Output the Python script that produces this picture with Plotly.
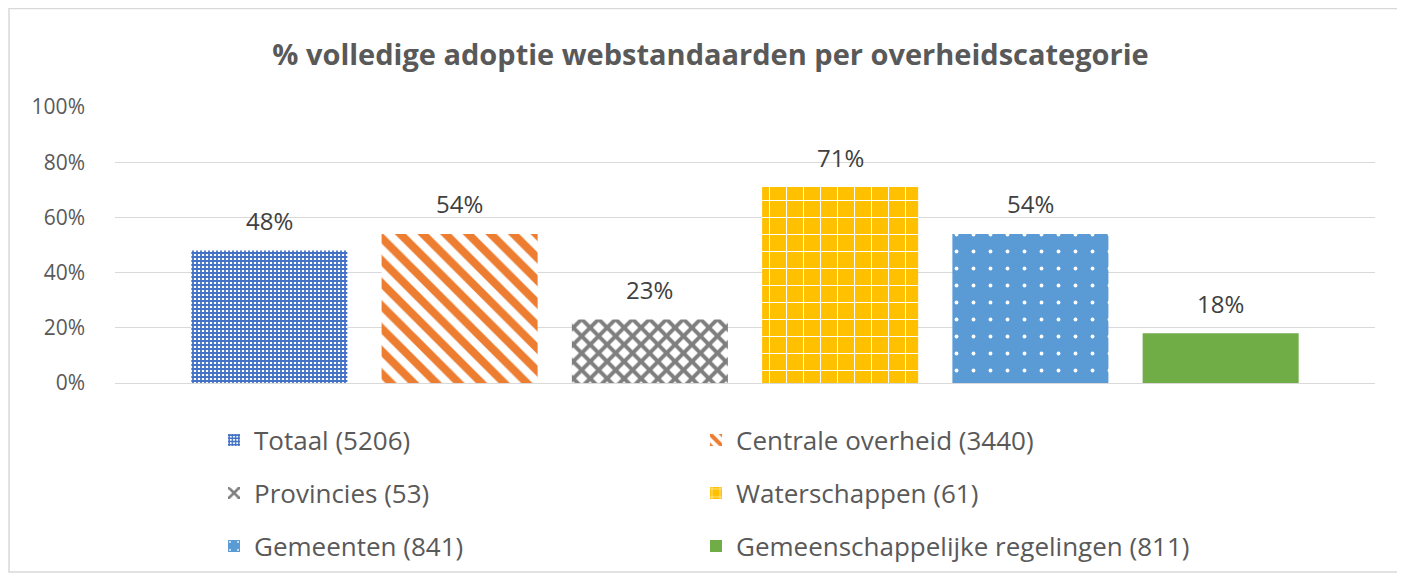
import plotly.graph_objects as go

categories = ["Totaal (5206)", "Centrale overheid (3440)", "Provincies (53)",
              "Waterschappen (61)", "Gemeenten (841)", "Gemeenschappelijke regelingen (811)"]
values = [0.48, 0.54, 0.23, 0.71, 0.54, 0.18]
colors = ["#4472C4", "#ED7D31", "#7F7F7F", "#FFC000", "#5B9BD5", "#70AD47"]
y_ticks = [0, 0.2, 0.4, 0.6, 0.8, 1.0]

patterns = [
    dict(shape="+", fillmode="replace", fgcolor="#4472C4", bgcolor="white", size=4, solidity=0.7, fgopacity=1),
    dict(shape="\\", fillmode="replace", fgcolor="#ED7D31", bgcolor="white", size=16, solidity=0.5, fgopacity=1),
    dict(shape="x", fillmode="replace", fgcolor="#7F7F7F", bgcolor="white", size=12, solidity=0.55, fgopacity=1),
    dict(shape="+", fillmode="replace", fgcolor="white", bgcolor="#FFC000", size=17, solidity=0.12, fgopacity=1),
    dict(shape=".", fillmode="replace", fgcolor="white", bgcolor="#5B9BD5", size=17, solidity=0.04, fgopacity=1),
    dict(shape=""),
]

FONT = "'Open Sans', Lato, sans-serif"
W, H = 1405, 576
ML, MR, MT, MB = 107, 38, 99, 201
BARGAP, GROUPGAP = 0.094, 0.18
plot_w = W - ML - MR
plot_h = H - MT - MB

# legend grid: 2 columns x 3 rows (pixel offsets relative to plot area)
leg_col_px = [99, 581]
leg_row_px = [57, 110, 163]

fig = go.Figure()
leg_layout = {}
for i, (name, v, c, p) in enumerate(zip(categories, values, colors, patterns)):
    lname = "legend" if i == 0 else f"legend{i + 1}"
    fig.add_trace(go.Bar(
        x=["all"], y=[v], name=name, legend=lname,
        marker=dict(color=c, pattern=p, line=dict(width=0)),
        hovertemplate="%{y:.0%}<extra>" + name + "</extra>",
    ))
    leg_layout[lname] = dict(
        orientation="v", xanchor="left", yanchor="middle",
        x=leg_col_px[i % 2] / plot_w, y=-leg_row_px[i // 2] / plot_h,
        font=dict(family=FONT, size=26, color="#595959"),
        itemwidth=30, bgcolor="rgba(0,0,0,0)",
    )

# data labels placed above each bar (offset derived from the group layout)
slot = plot_w * (1 - BARGAP) / len(values)
n = len(values)
for i, v in enumerate(values):
    fig.add_annotation(
        x="all", y=v, xref="x", yref="y", text=f"{round(v * 100)}%",
        showarrow=False, xshift=(i - (n - 1) / 2) * slot, yshift=30,
        yanchor="middle", font=dict(family=FONT, size=24, color="#404040"),
    )

fig.update_layout(
    width=W, height=H,
    margin=dict(l=ML, r=MR, t=MT, b=MB),
    paper_bgcolor="white", plot_bgcolor="white",
    barmode="group", bargap=BARGAP, bargroupgap=GROUPGAP,
    title=dict(text="<b>% volledige adoptie webstandaarden per overheidscategorie</b>",
               x=0.5, xanchor="center", y=1 - 47 / H, yanchor="middle",
               font=dict(family=FONT, size=29, color="#595959")),
    font=dict(family=FONT, color="#595959"),
    xaxis=dict(showticklabels=False, showgrid=False, zeroline=False, showline=False),
    yaxis=dict(range=[0, 1], tickvals=y_ticks, tickformat=".0%",
               tickfont=dict(family=FONT, size=21, color="#595959"),
               showgrid=True, gridcolor="#D9D9D9", gridwidth=1,
               zeroline=True, zerolinecolor="#D9D9D9", zerolinewidth=1,
               ticklabelstandoff=29, showline=False),
    showlegend=True,
    **leg_layout,
)

fig.add_shape(type="rect", xref="paper", yref="paper",
              x0=-0.0841, x1=1.0198, y0=-0.6848, y1=1.357,
              line=dict(color="#D9D9D9", width=1.5), fillcolor="rgba(0,0,0,0)", layer="below")

fig.write_html("out.html")
